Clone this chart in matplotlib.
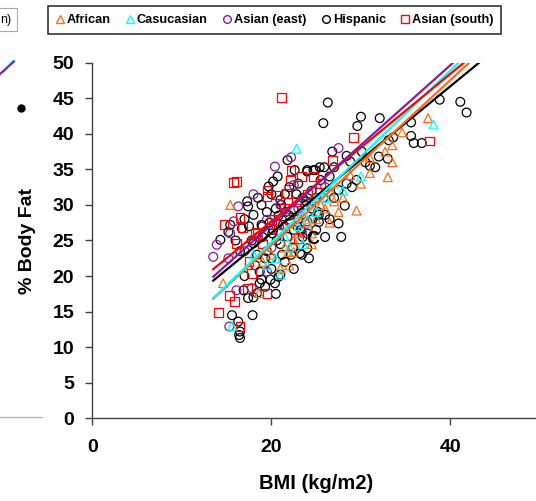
import matplotlib
matplotlib.use("Agg")
import matplotlib.pyplot as plt
from matplotlib.lines import Line2D
from matplotlib.patches import Rectangle
import numpy as np

plt.rcParams['font.family'] = ['Liberation Sans', 'DejaVu Sans']

# ---- data (BMI, %Body fat) per group ----
groups = ["African", "Casucasian", "Asian (east)", "Hispanic", "Asian (south)"]

african_x = [37.5, 34.6, 33.5, 33.0, 31.0, 32.7, 29.5, 28.8, 31.0, 26.6, 15.4, 14.6, 21.0, 21.9, 18.6, 22.5,
             23.0, 24.0, 25.0, 26.0, 27.0, 22.5, 24.5, 25.5, 28.0, 21.5, 23.5, 20.0, 19.0, 33.5, 30.0, 24.5,
             27.5, 26.5, 22.0]
african_y = [42.2, 40.2, 38.4, 33.9, 34.5, 37.5, 29.2, 34.2, 36.6, 31.9, 30.0, 19.0, 21.1, 23.4, 17.6, 23.4,
             26.0, 27.5, 28.0, 29.5, 30.5, 25.0, 26.0, 30.0, 31.0, 24.0, 28.5, 23.0, 22.0, 36.0, 33.0, 24.5,
             29.0, 27.5, 21.5]

cauc_x = [22.8, 38.1, 30.0, 15.6, 21.0, 20.5, 22.0, 23.0, 25.0, 26.0, 18.0, 27.0, 24.0, 21.5, 19.5, 28.0, 23.5, 25.4]
cauc_y = [37.9, 41.3, 34.0, 13.0, 20.2, 22.5, 24.0, 27.0, 29.0, 31.0, 23.0, 33.0, 28.0, 25.5, 21.5, 32.0, 24.5, 31.1]

east_x = [20.4, 22.2, 18.0, 16.3, 15.8, 15.4, 13.9, 19.5, 21.0, 22.5, 24.0, 23.4, 13.5, 15.2, 15.3, 16.1,
          17.8, 19.5, 27.5, 18.5, 20.0, 21.5, 23.0, 25.0, 26.0, 17.0, 24.5]
east_y = [35.4, 36.7, 31.5, 29.8, 27.7, 26.0, 24.4, 27.9, 30.0, 32.8, 27.7, 26.2, 22.7, 22.5, 12.9, 18.0,
          18.3, 20.6, 38.0, 25.5, 24.0, 27.0, 29.5, 31.0, 32.5, 23.5, 30.5]

hisp_x = [26.3, 25.8, 30.0, 29.6, 32.1, 38.8, 41.1, 41.8, 35.6, 35.6, 35.9, 36.8, 33.6, 33.1, 33.0, 32.0,
          31.6, 31.0, 30.5, 30.1, 26.8, 28.4, 28.8, 27.0, 25.9, 25.4, 28.4, 27.5, 28.2, 24.9, 24.0, 25.3,
          26.0, 27.5, 27.8, 25.3, 24.0, 23.4,
          16.5, 16.4, 16.5, 15.6, 16.3, 17.9, 17.4, 16.9, 18.4, 18.7, 23.2, 19.3, 19.9, 18.7, 19.3, 18.9,
          20.4, 20.8, 20.0, 21.0,
          14.3, 15.2, 15.4, 16.7, 17.4, 17.3, 18.9, 19.7, 20.2, 20.7, 21.8, 22.6, 24.0, 24.7, 21.0, 22.5,
          18.0, 18.9, 20.2, 21.3, 18.0,
          21.5, 22.0, 23.0, 23.5, 24.5, 25.5, 26.5, 22.0, 23.0, 19.5, 20.5, 20.0, 18.5, 17.0, 16.0, 19.0,
          21.0, 22.5, 24.0, 25.0, 26.5, 23.5, 21.5, 22.5, 20.0, 19.5, 24.5, 27.0, 29.0, 29.5, 22.8, 25.8,
          17.5, 16.5, 20.8, 21.8, 23.8, 18.2, 17.0, 24.2, 22.2, 26.0, 20.5, 18.0,
          19.8, 20.6, 21.2, 22.4, 23.3, 19.0, 20.1, 21.6, 22.9, 24.6, 18.4, 17.8, 23.9, 25.2, 21.1]
hisp_y = [44.4, 41.5, 42.4, 41.1, 42.2, 44.8, 44.5, 43.0, 41.6, 39.7, 38.7, 38.7, 39.5, 39.1, 36.5, 36.8,
          35.3, 35.5, 36.0, 37.5, 37.5, 36.9, 36.1, 35.3, 35.3, 35.3, 33.0, 32.1, 29.9, 34.9, 34.9, 28.6,
          28.6, 27.4, 25.5, 27.6, 23.9, 23.0,
          11.3, 11.7, 12.2, 14.5, 13.6, 14.5, 16.9, 18.0, 17.6, 20.6, 23.2, 22.5, 19.5, 19.0, 18.5, 19.5,
          19.0, 19.9, 22.5, 20.2,
          25.1, 26.2, 27.2, 26.7, 29.8, 30.5, 30.0, 32.6, 33.3, 34.0, 36.3, 34.9, 34.7, 34.9, 30.7, 29.3,
          28.6, 27.2, 26.5, 27.2, 24.6,
          31.5, 32.5, 33.0, 31.0, 32.0, 33.5, 34.0, 28.5, 28.0, 29.0, 29.5, 31.5, 31.0, 28.0, 25.0, 25.5,
          24.5, 26.5, 26.0, 26.5, 28.0, 25.5, 22.0, 21.0, 21.0, 23.5, 29.5, 31.0, 32.5, 33.5, 31.5, 31.0,
          27.0, 23.5, 28.5, 25.5, 30.0, 21.5, 20.0, 22.5, 23.0, 25.5, 17.5, 17.0,
          27.5, 25.0, 23.0, 24.0, 26.5, 27.0, 26.0, 29.0, 27.0, 28.0, 23.0, 25.0, 30.5, 29.0, 30.0]

south_x = [21.1, 15.8, 16.1, 14.7, 16.5, 16.8, 22.1, 22.2, 23.4, 24.7, 19.5, 20.6, 21.7, 19.5, 18.4, 23.0,
           16.1, 15.3, 15.9, 14.1, 16.5, 19.5, 17.3, 17.8, 29.2, 37.7, 26.8, 20.0, 20.6, 18.2,
           21.5, 22.8, 20.8, 24.0, 25.5, 19.0, 22.0, 17.5]
south_y = [45.1, 33.2, 33.3, 27.3, 28.2, 26.8, 33.4, 34.8, 34.0, 34.0, 32.1, 31.4, 31.6, 31.2, 26.2, 25.3,
           24.6, 17.3, 16.4, 14.9, 12.9, 17.6, 18.3, 20.4, 39.5, 39.0, 36.3, 27.9, 27.2, 26.0,
           29.5, 30.5, 26.5, 31.5, 33.0, 24.5, 28.0, 22.0]

# regression lines: slope, intercept per group
slopes = [1.161, 1.208, 1.123, 1.032, 1.037]
intercepts = [1.13, 0.59, 4.74, 5.42, 6.96]
fit_range = [13.5, 46.0]

xticks = [0, 20, 40]
yticks = [0, 5, 10, 15, 20, 25, 30, 35, 40, 45, 50]

colors = ['#FF6A13', '#00FFFF', '#8A1A9B', '#000000', '#FF0000']
markers = ['^', '^', 'o', 'o', 's']
xs = [african_x, cauc_x, east_x, hisp_x, south_x]
ys = [african_y, cauc_y, east_y, hisp_y, south_y]

W, H = 536, 501
fig = plt.figure(figsize=(W / 100, H / 100), dpi=100)
x0px, x50px = 92.3, 540.0
y0px, y50px = 418.3, 62.7
ax = fig.add_axes([x0px / W, 1 - y0px / H, (x50px - x0px) / W, (y0px - y50px) / H])
ax.set_xlim(0, 50)
ax.set_ylim(0, 50)

draw_order = [3, 2, 4, 0, 1]
for i in draw_order:
    ax.scatter(xs[i], ys[i], s=40, marker=markers[i], facecolors='none',
               edgecolors=colors[i], linewidths=0.9, zorder=2)

line_order = [3, 0, 1, 4, 2]
fx = np.array(fit_range)
for i in line_order:
    ax.plot(fx, slopes[i] * fx + intercepts[i], color=colors[i], lw=1.6, zorder=3)

ax.text(24.6, 25.1, 'C', fontsize=13, fontweight='bold', ha='center', va='center', zorder=4)

for sp in ['top', 'right']:
    ax.spines[sp].set_visible(False)
for sp in ['left', 'bottom']:
    ax.spines[sp].set_color('#404040')
    ax.spines[sp].set_linewidth(1.0)
ax.set_xticks(xticks)
ax.set_yticks(yticks)
ax.tick_params(axis='both', direction='out', length=5, width=1.0, color='#404040',
               labelsize=14, pad=8)
ax.tick_params(axis='x', pad=10)
for lab in ax.get_xticklabels() + ax.get_yticklabels():
    lab.set_fontweight('bold')
ax.set_xlabel('BMI (kg/m2)', fontsize=14.5, fontweight='bold', labelpad=13)
ax.set_ylabel('% Body Fat', fontsize=14, fontweight='bold', labelpad=12)

handles = [Line2D([], [], linestyle='none', marker=markers[i], markerfacecolor='none',
                  markeredgecolor=colors[i], markersize=5.5, markeredgewidth=1.0) for i in range(5)]
leg = fig.legend(handles, groups, loc='center', bbox_to_anchor=(274.7 / W, 1 - 20 / H), ncol=5,
                 frameon=True, fancybox=False, edgecolor='black',
                 prop={'weight': 'bold', 'size': 9.2}, handlelength=0.6, handletextpad=0.25,
                 columnspacing=1.2, borderpad=0.6, borderaxespad=0)
leg.get_frame().set_linewidth(1.2)

# fragments of neighbouring panel at the left edge
fig.add_artist(Rectangle((-2 / W, 1 - 31 / H), 18.5 / W, 23 / H, transform=fig.transFigure,
                         facecolor='white', edgecolor='#aaaaaa', lw=0.8))
fig.text(0.5 / W, 1 - 20 / H, 'n)', fontsize=9, va='center', ha='left')
fig.add_artist(Line2D([3 / W, 13 / W], [1 - 72 / H, 1 - 61 / H], transform=fig.transFigure,
                      color='#00FFFF', lw=1.5))
fig.add_artist(Line2D([0 / W, 14 / W], [1 - 74 / H, 1 - 61.5 / H], transform=fig.transFigure,
                      color='#8A1A9B', lw=1.5))
fig.add_artist(Line2D([20.7 / W], [1 - 107.7 / H], transform=fig.transFigure, marker='o',
                      color='black', markersize=5, linestyle='none'))
fig.add_artist(Line2D([0, 42 / W], [1 - 417 / H, 1 - 417 / H], transform=fig.transFigure,
                      color='#bbbbbb', lw=1.0))

fig.savefig('out.png', dpi=100)
